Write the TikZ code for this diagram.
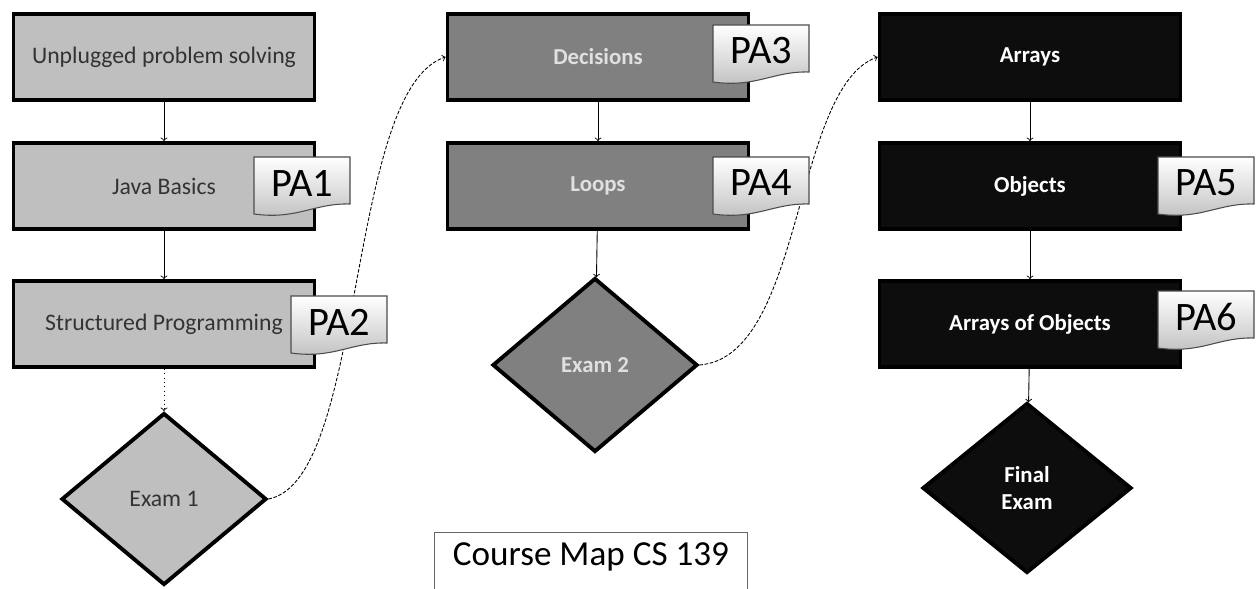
\documentclass[tikz,border=0pt]{standalone}
\usepackage{fontspec}
\setmainfont{Carlito}
\usetikzlibrary{calc,shapes.geometric}

% PA tag: name, centre, text
\newcommand{\panote}[3]{%
  \shade[top color=white,bottom color=black!25,draw=black!70,line width=0.6pt]
    ($#2+(-48,-29)$) -- ($#2+(48,-29)$) -- ($#2+(48,18)$)
    .. controls ($#2+(12,17)$) and ($#2+(-5,34)$) .. ($#2+(-48,28)$) -- cycle;
  \node[font=\fontsize{23}{26}\selectfont] (#1) at ($#2+(0,-3)$) {#3};}

\begin{document}
\begin{tikzpicture}[x=0.02cm,y=-0.02cm,
    topic/.style={draw,line width=2.2pt,minimum width=6.02cm,minimum height=1.72cm,
      font=\fontsize{13.5}{15}\selectfont},
    exam/.style={diamond,draw,line width=2.2pt,inner sep=0pt,align=center,
      font=\fontsize{13.5}{15}\selectfont},
    lite/.style={fill=black!25,text=black!80},
    mid/.style={fill=black!50,text=white!88!black,font=\fontsize{13}{15}\selectfont\bfseries},
    dark/.style={fill=black!95,text=white,font=\fontsize{13}{15}\selectfont\bfseries},
    link/.style={->,line width=0.5pt}]
  \useasboundingbox (0,0) rectangle (1257,588);

  \node[topic,lite] (U) at (164,57) {Unplugged problem solving};
  \node[topic,lite] (J) at (164,186) {Java Basics};
  \node[topic,lite] (S) at (164,324) {Structured Programming};
  \node[exam,lite,minimum width=4.1cm,minimum height=3.44cm] (E1) at (164,499) {Exam 1};

  \node[topic,mid] (D) at (598,57) {Decisions};
  \node[topic,mid] (L) at (598,186) {Loops};
  \node[exam,mid,minimum width=4.1cm,minimum height=3.48cm] (E2) at (595,365) {Exam 2};

  \node[topic,dark] (A) at (1030,57) {Arrays};
  \node[topic,dark] (O) at (1030,186) {Objects};
  \node[topic,dark] (AO) at (1030,324) {Arrays of Objects};
  \node[exam,dark,minimum width=4.18cm,minimum height=3.4cm] (F) at (1027,488) {Final\\Exam};

  \path[link] (U) edge (J) (J) edge (S) (S) edge[dotted] (E1)
    (D) edge (L) (L) edge (E2)
    (A) edge (O) (O) edge (AO) (AO) edge (F);

  \draw[link,dash pattern=on 2pt off 1pt] (E1.east)
    .. controls +(98,-18) and +(-100,33) .. (D.west);
  \draw[link,dash pattern=on 2pt off 1pt] (E2.east)
    .. controls +(105,-8) and +(-85,30) .. (A.west);

  \panote{PA1}{(302,186)}{PA1}
  \panote{PA2}{(339,325)}{PA2}
  \panote{PA3}{(761,54)}{PA3}
  \panote{PA4}{(761,186)}{PA4}
  \panote{PA5}{(1206,186)}{PA5}
  \panote{PA6}{(1206,320)}{PA6}

  \node[draw=black!60,line width=0.6pt,anchor=north,minimum width=6.26cm,
    inner ysep=3pt,text height=16pt,text depth=12pt,
    font=\fontsize{20}{24}\selectfont] (T) at (591,532) {Course Map CS 139};
\end{tikzpicture}
\end{document}
